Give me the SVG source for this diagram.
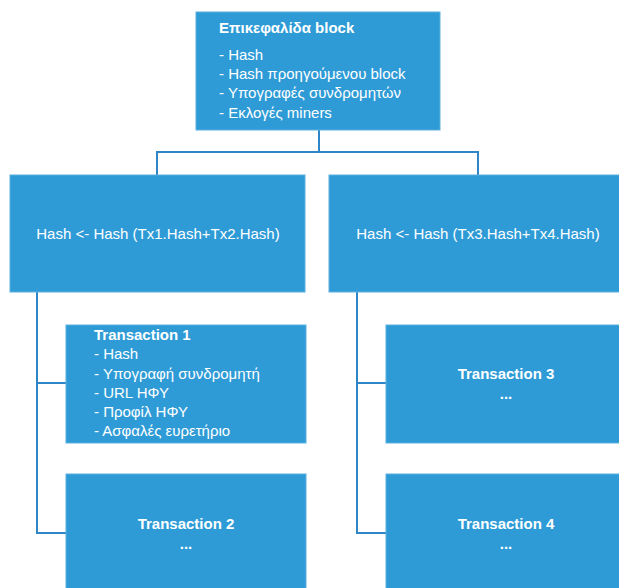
<svg xmlns="http://www.w3.org/2000/svg" width="619" height="588" viewBox="0 0 619 588">
  <style>
    .box { fill: #2E9BD6; stroke: #5AB0E0; stroke-width: 1; }
    .link { fill: none; stroke: #2E86C8; stroke-width: 2; }
    text { font-family: "Liberation Sans", Arial, sans-serif; font-size: 15px; fill: #ffffff; }
    .b { font-weight: bold; }
    .c { text-anchor: middle; }
  </style>
  <rect width="619" height="588" fill="#ffffff"/>

  <g id="connectors">
    <path class="link" d="M319 130 V152 M157 176 V152 H478 V176"/>
    <path class="link" d="M37 292 V533 H66 M37 383 H66"/>
    <path class="link" d="M357 292 V533 H386 M357 383 H386"/>
  </g>

  <g id="block-header">
    <rect class="box" x="196" y="12" width="244" height="118"/>
    <text class="b" x="219" y="33">Επικεφαλίδα block</text>
    <text x="219" y="60">- Hash</text>
    <text x="219" y="79">- Hash προηγούμενου block</text>
    <text x="219" y="98">- Υπογραφές συνδρομητών</text>
    <text x="219" y="118">- Εκλογές miners</text>
  </g>

  <g id="hash-left">
    <rect class="box" x="10" y="175" width="295" height="117"/>
    <text class="c" x="158" y="239">Hash &lt;- Hash (Tx1.Hash+Tx2.Hash)</text>
  </g>

  <g id="hash-right">
    <rect class="box" x="329" y="175" width="300" height="117"/>
    <text class="c" x="478" y="239">Hash &lt;- Hash (Tx3.Hash+Tx4.Hash)</text>
  </g>

  <g id="transaction-1">
    <rect class="box" x="66" y="325" width="240" height="118"/>
    <text class="b" x="94" y="340">Transaction 1</text>
    <text x="94" y="359">- Hash</text>
    <text x="94" y="379">- Υπογραφή συνδρομητή</text>
    <text x="94" y="398">- URL ΗΦΥ</text>
    <text x="94" y="417">- Προφίλ ΗΦΥ</text>
    <text x="94" y="436">- Ασφαλές ευρετήριο</text>
  </g>

  <g id="transaction-2">
    <rect class="box" x="66" y="474" width="240" height="124"/>
    <text class="b c" x="186" y="529">Transaction 2</text>
    <text class="b c" x="186" y="549">...</text>
  </g>

  <g id="transaction-3">
    <rect class="box" x="386" y="325" width="240" height="118"/>
    <text class="b c" x="506" y="379">Transaction 3</text>
    <text class="b c" x="506" y="399">...</text>
  </g>

  <g id="transaction-4">
    <rect class="box" x="386" y="474" width="240" height="124"/>
    <text class="b c" x="506" y="529">Transaction 4</text>
    <text class="b c" x="506" y="549">...</text>
  </g>
</svg>
